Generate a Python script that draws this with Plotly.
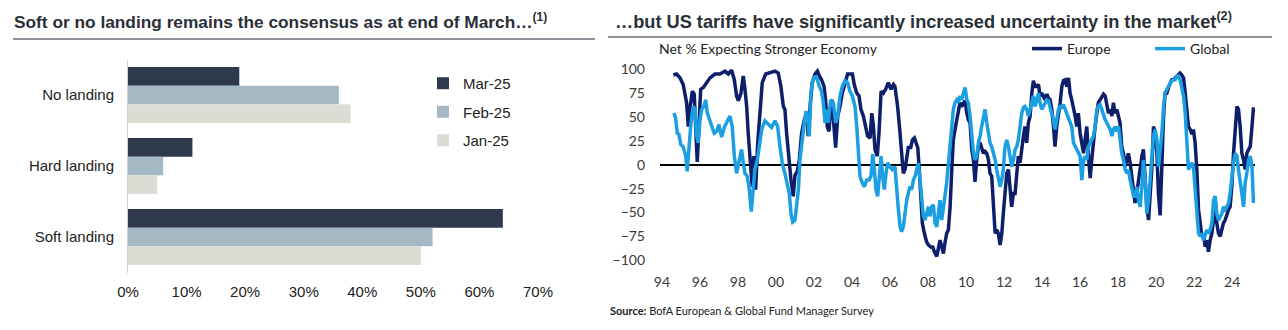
import plotly.graph_objects as go

# ---------------- data ----------------
categories = ["No landing", "Hard landing", "Soft landing"]
mar25 = [19, 11, 64]
feb25 = [36, 6, 52]
jan25 = [38, 5, 50]
pct_ticks = [0, 10, 20, 30, 40, 50, 60, 70]
pct_labels = [f"{v}%" for v in pct_ticks]

# Europe (decimal year, net %)
eu_year_a = [1994.60, 1994.77, 1994.95, 1995.12, 1995.30, 1995.39, 1995.47, 1995.60, 1995.70, 1995.77,
             1995.86, 1995.95, 1996.04, 1996.18, 1996.35, 1996.53, 1996.79, 1997.05, 1997.32, 1997.49,
             1997.67, 1997.81, 1997.93, 1998.02, 1998.16, 1998.28, 1998.37, 1998.46, 1998.54, 1998.67,
             1998.75, 1998.84, 1998.93, 1999.04, 1999.16, 1999.28, 1999.46, 1999.68,
             1999.95, 2000.12, 2000.26, 2000.39, 2000.47, 2000.56, 2000.68, 2000.79, 2000.91,
             2001.00, 2001.12, 2001.23, 2001.35, 2001.49, 2001.61, 2001.70, 2001.81, 2001.91,
             2002.05, 2002.18, 2002.28, 2002.40, 2002.53, 2002.61, 2002.70, 2002.79, 2002.88, 2002.96,
             2003.05, 2003.14, 2003.25, 2003.37, 2003.49, 2003.63, 2003.77, 2003.89,
             2004.02, 2004.12, 2004.25, 2004.37, 2004.47, 2004.60, 2004.72, 2004.82, 2004.95,
             2005.04, 2005.12, 2005.21, 2005.33, 2005.42, 2005.53, 2005.65, 2005.77, 2005.91,
             2006.05, 2006.18]
eu_val_a = [94, 95, 91, 84, 65, 40, 58, 77, 74, 40,
            3, 40, 79, 81, 86, 91, 95, 95, 98, 95,
            99, 89, 72, 67, 75, 93, 79, 61, 33, -9,
            -23, 9, -26, 23, 61, 86, 95, 96,
            98, 96, 82, 61, 58, 33, 5, -16, -33,
            -11, -7, 5, 33, 47, 54, 30, 65, 86,
            95, 98, 93, 89, 82, 68, 40, 35, 60, 68,
            40, 18, 51, 61, 75, 86, 95, 95,
            95, 84, 75, 72, 58, 51, 39, 30, 28,
            54, 42, 16, 9, 33, 77, 75, 79, 86,
            79, 84]
eu_year_b = [2006.26, 2006.40, 2006.51, 2006.61, 2006.70, 2006.79, 2006.88, 2006.96, 2007.09, 2007.18,
             2007.28, 2007.37, 2007.46, 2007.53, 2007.61, 2007.70, 2007.81, 2007.93, 2008.02, 2008.14,
             2008.25, 2008.33, 2008.46, 2008.54, 2008.63, 2008.72, 2008.81, 2008.89, 2008.98, 2009.07,
             2009.16, 2009.25, 2009.33, 2009.42, 2009.51, 2009.60, 2009.68, 2009.77, 2009.86, 2009.95,
             2010.04, 2010.12, 2010.21, 2010.30, 2010.39, 2010.47, 2010.56, 2010.65, 2010.74, 2010.82,
             2010.91, 2011.00, 2011.09, 2011.18, 2011.26, 2011.35, 2011.44, 2011.53, 2011.61, 2011.70,
             2011.79, 2011.88, 2011.96, 2012.05, 2012.14, 2012.23, 2012.32, 2012.40, 2012.49]
eu_val_b = [82, 61, 37, 16, -9, -5, 9, 18, 18, 26,
            28, 23, 18, -2, -37, -61, -72, -81, -84, -86,
            -86, -91, -96, -86, -79, -86, -93, -82, -72, -68,
            -44, -5, 26, 37, 47, 61, 65, 61, 65, 67,
            54, 47, 44, 16, 5, -18, 5, 19, 23, 18,
            12, 14, 12, 5, -9, -12, -37, -72, -68, -72,
            -84, -72, -51, -30, -9, -5, -26, -44, -30]

# Global (decimal year, net %)
gl_year_a = [1994.63, 1994.72, 1994.81, 1994.89, 1995.00, 1995.12, 1995.25, 1995.33, 1995.42, 1995.53,
             1995.65, 1995.74, 1995.82, 1995.91, 1996.00, 1996.09, 1996.21, 1996.30, 1996.39, 1996.53,
             1996.65, 1996.75, 1996.88, 1997.00, 1997.14, 1997.28, 1997.40, 1997.58, 1997.70, 1997.81,
             1997.93, 1998.05, 1998.19, 1998.28, 1998.37, 1998.49, 1998.60, 1998.70, 1998.81, 1998.89,
             1999.02, 1999.11, 1999.25, 1999.42, 1999.60, 1999.77,
             1999.95, 2000.09, 2000.21, 2000.33, 2000.47, 2000.60, 2000.70, 2000.79, 2000.88,
             2001.00, 2001.09, 2001.18, 2001.26, 2001.35, 2001.47, 2001.58, 2001.67, 2001.75, 2001.84, 2001.93,
             2002.05, 2002.18, 2002.28, 2002.40, 2002.49, 2002.58, 2002.67, 2002.75, 2002.88,
             2003.02, 2003.14, 2003.25, 2003.37, 2003.49, 2003.63, 2003.77, 2003.89,
             2004.02, 2004.16, 2004.25, 2004.33, 2004.42, 2004.54, 2004.65, 2004.77, 2004.89,
             2005.00, 2005.09, 2005.18, 2005.26, 2005.35, 2005.42, 2005.53, 2005.61, 2005.70, 2005.79, 2005.88,
             2006.00, 2006.12]
gl_val_a = [54, 49, 33, 32, 21, 19, 9, -7, 16, 44,
            61, 58, 32, 23, 46, 58, 61, 68, 54, 46,
            40, 33, 35, 42, 29, 39, 44, 51, 40, 9,
            -9, 5, 16, 2, -9, -12, -26, -49, -23, -5,
            5, 19, 37, 46, 42, 39,
            46, 40, 19, 2, -9, -23, -30, -51, -60,
            -58, -37, -26, 5, 23, 40, 56, 49, 30, 75, 88,
            93, 89, 82, 77, 65, 44, 58, 44, 68,
            65, 44, 51, 72, 82, 88, 86, 77,
            72, 61, 40, 16, -12, -19, -23, -16, -16,
            -12, 11, -5, -26, -33, -19, 9, -12, -26, -9, 2,
            -2, -5]
gl_year_b = [2006.26, 2006.35, 2006.44, 2006.53, 2006.61, 2006.70, 2006.79, 2006.88, 2006.96, 2007.05,
             2007.14, 2007.23, 2007.32, 2007.40, 2007.49, 2007.58, 2007.67, 2007.75, 2007.84, 2007.93,
             2008.02, 2008.10, 2008.19, 2008.28, 2008.37, 2008.46, 2008.54, 2008.63, 2008.72, 2008.81,
             2008.89, 2008.98, 2009.07, 2009.16, 2009.25, 2009.33, 2009.42, 2009.51, 2009.60, 2009.68,
             2009.77, 2009.86, 2009.95, 2010.04, 2010.12, 2010.21, 2010.30, 2010.39, 2010.47, 2010.56,
             2010.65, 2010.74, 2010.82, 2010.91, 2011.00, 2011.09, 2011.18, 2011.26, 2011.35, 2011.44,
             2011.53, 2011.61, 2011.70, 2011.79, 2011.88, 2011.96, 2012.05, 2012.14, 2012.23, 2012.32,
             2012.40, 2012.49]
gl_val_b = [-2, -30, -47, -65, -70, -65, -47, -37, -30, -23,
            -26, -16, -12, -5, 2, -16, -40, -53, -58, -51,
            -44, -54, -44, -42, -61, -65, -47, -37, -58, -40,
            -33, -19, -2, 16, 40, 58, 65, 68, 65, 72,
            68, 75, 81, 68, 65, 51, 30, 12, 5, 9,
            23, 30, 40, 51, 58, 44, 30, 23, 19, 12,
            5, -5, -16, -23, -16, -5, 19, 26, 19, 9,
            -2, 5]

# shared sampling dates 2012-2025 for both series
year_c = [2012.58, 2012.67, 2012.75, 2012.84, 2012.93, 2013.02, 2013.10, 2013.19, 2013.28, 2013.37,
          2013.46, 2013.54, 2013.63, 2013.72, 2013.81, 2013.89, 2013.98, 2014.07, 2014.16, 2014.25,
          2014.33, 2014.42, 2014.51, 2014.60, 2014.68, 2014.77, 2014.86, 2014.95, 2015.04, 2015.12,
          2015.21, 2015.30, 2015.39, 2015.47, 2015.56, 2015.65, 2015.74, 2015.82, 2015.91, 2016.00,
          2016.09, 2016.18, 2016.26, 2016.35, 2016.44, 2016.53, 2016.61, 2016.70, 2016.79, 2016.88,
          2016.96, 2017.05, 2017.14, 2017.23, 2017.32, 2017.40, 2017.49, 2017.58, 2017.67, 2017.75,
          2017.84, 2017.93, 2018.02, 2018.10, 2018.19, 2018.28, 2018.37, 2018.46, 2018.54, 2018.63,
          2018.72, 2018.81,
          2018.89, 2018.98, 2019.07, 2019.16, 2019.25, 2019.33, 2019.42, 2019.51, 2019.60, 2019.68,
          2019.77, 2019.86, 2019.95, 2020.04, 2020.12, 2020.21, 2020.30, 2020.39, 2020.47, 2020.56,
          2020.65, 2020.74, 2020.82, 2020.91, 2021.00, 2021.09, 2021.18, 2021.26, 2021.35, 2021.44,
          2021.53, 2021.61, 2021.70, 2021.79, 2021.88, 2021.96, 2022.05, 2022.14, 2022.23, 2022.32,
          2022.40, 2022.49, 2022.58, 2022.67, 2022.75, 2022.84, 2022.93, 2023.02, 2023.10, 2023.19,
          2023.28, 2023.37, 2023.46, 2023.54, 2023.63, 2023.72, 2023.81, 2023.89, 2023.98, 2024.07,
          2024.16, 2024.25, 2024.33, 2024.42, 2024.51, 2024.60, 2024.68, 2024.77, 2024.86, 2024.95,
          2025.04, 2025.12]
eu_val_c = [-30, -9, 9, 2, 19, 30, 40, 23, 44, 51,
            75, 88, 82, 82, 84, 72, 75, 72, 68, 74,
            70, 68, 58, 40, 19, 40, 51, 65, 82, 88,
            89, 82, 91, 75, 68, 61, 51, 40, 54, 33,
            23, 12, 26, 40, 9, -14, 5, 26, 40, 54,
            65, 68, 72, 74, 72, 61, 54, 58, 51, 65,
            54, 58, 51, 44, 19, 12, -2, 5, 12, 2,
            -12, -26,
            -40, -30, -16, -5, 9, 16, -23, -44, -58, -37,
            -5, 40, 33, 12, -30, -53, 5, 51, 75, 75,
            81, 86, 89, 89, 91, 93, 95, 96, 94, 91,
            75, 58, 40, 37, 32, 37, 23, -5, -47, -61,
            -75, -72, -86, -79, -91, -79, -72, -58, -33, -61,
            -72, -75, -68, -61, -58, -51, -47, -44, -23, 12,
            44, 61, 58, 40, 12, 5, -5, 12, 16, 19,
            40, 60]
gl_val_c = [16, 19, 26, 40, 54, 60, 61, 58, 51, 58,
            65, 72, 61, 70, 75, 65, 58, 61, 65, 68,
            67, 61, 54, 47, 37, 51, 58, 61, 60, 63,
            58, 54, 47, 44, 40, 23, 19, 16, 12, 9,
            -16, 5, 9, 5, 19, 23, 26, 30, 40, 58,
            61, 63, 58, 51, 47, 44, 40, 37, 30, 37,
            40, 35, 40, 23, 12, 5, -5, -9, -5, -16,
            -23, -33,
            -33, -23, -37, -44, -23, 5, -16, -51, -37, -16,
            9, 30, 37, 26, -2, 16, 33, 61, 75, 79,
            82, 86, 88, 89, 89, 93, 93, 89, 82, 72,
            54, 23, -5, -2, 2, -2, -23, -54, -72, -75,
            -72, -79, -72, -68, -72, -68, -61, -37, -33, -51,
            -58, -54, -51, -44, -47, -44, -40, -30, -12, 2,
            12, 9, -5, -16, -30, -44, -19, -9, 5, 9,
            -2, -40]

europe_year = eu_year_a + eu_year_b + year_c
europe_val = eu_val_a + eu_val_b + eu_val_c
global_year = gl_year_a + gl_year_b + year_c
global_val = gl_val_a + gl_val_b + gl_val_c

year_ticks = list(range(1994, 2025, 2))
year_labels = [f"{y % 100:02d}" for y in year_ticks]
net_ticks = [100, 75, 50, 25, 0, -25, -50, -75, -100]

# ---------------- layout helpers ----------------
W, H = 1288, 330
def px(x):
    return x / W
def py(y):
    return 1 - y / H

ARIAL = "Liberation Sans, Arial, sans-serif"
LATO = "Lato, Open Sans, sans-serif"

fig = go.Figure()

bar_colors = ["#2e3a4c", "#a5b9c4", "#dcdcd5"]
for name, vals, col in [("Mar-25", mar25, bar_colors[0]),
                        ("Feb-25", feb25, bar_colors[1]),
                        ("Jan-25", jan25, bar_colors[2])]:
    fig.add_trace(go.Bar(y=categories, x=vals, orientation="h", name=name,
                         marker=dict(color=col, line=dict(width=0)),
                         xaxis="x", yaxis="y", legend="legend", legendgroup=name))

fig.add_trace(go.Scatter(x=europe_year, y=europe_val, mode="lines", name="Europe",
                         line=dict(color="#0d1f6b", width=3.5),
                         xaxis="x2", yaxis="y2", legend="legend2"))
fig.add_trace(go.Scatter(x=global_year, y=global_val, mode="lines", name="Global",
                         line=dict(color="#1a9fe3", width=3.5),
                         xaxis="x2", yaxis="y2", legend="legend2"))

fig.update_layout(
    width=W, height=H,
    margin=dict(l=0, r=0, t=0, b=0, autoexpand=False),
    paper_bgcolor="white", plot_bgcolor="white",
    barmode="group", bargap=0.21, bargroupgap=0,
    showlegend=True,
    xaxis=dict(domain=[px(128), px(538)], range=[0, 70], tickvals=pct_ticks, ticktext=pct_labels,
               showgrid=False, zeroline=False, showline=False, ticks="", anchor="y",
               ticklabelstandoff=8, tickfont=dict(family=ARIAL, size=15, color="#222222")),
    yaxis=dict(domain=[py(272.5), py(59.5)], range=[2.5, -0.5], showgrid=False, zeroline=False,
               showline=True, linecolor="#d4d4d4", linewidth=1, ticks="", anchor="x",
               ticklabelstandoff=10, tickfont=dict(family=ARIAL, size=15, color="#222222")),
    xaxis2=dict(domain=[px(660), px(1255)], range=[1993.9, 2025.2], tickvals=year_ticks,
                ticktext=year_labels, showgrid=False, zeroline=False, showline=False, ticks="",
                anchor="y2", ticklabelstandoff=2,
                tickfont=dict(family=LATO, size=14, color="#3b3a36")),
    yaxis2=dict(domain=[py(269.8), py(59.7)], range=[-110, 110], tickvals=net_ticks,
                showgrid=False, zeroline=True, zerolinecolor="#000000", zerolinewidth=1.5,
                showline=False, ticks="", anchor="x2", ticklabelstandoff=14,
                tickfont=dict(family=LATO, size=14, color="#3b3a36")),
    legend=dict(x=px(423), y=py(67), xanchor="left", yanchor="top", traceorder="grouped",
                tracegroupgap=6, font=dict(family=ARIAL, size=15, color="#222222"),
                bgcolor="rgba(0,0,0,0)", itemclick=False),
    legend2=dict(orientation="h", x=px(1027), y=py(49), xanchor="left", yanchor="middle",
                 entrywidth=78, entrywidthmode="pixels",
                 font=dict(family=LATO, size=14, color="#222222"), bgcolor="rgba(0,0,0,0)"),
    shapes=[
        dict(type="line", xref="paper", yref="paper", x0=px(13), x1=px(595), y0=py(39), y1=py(39),
             line=dict(color="#8d949c", width=2)),
        dict(type="line", xref="paper", yref="paper", x0=px(608), x1=px(1272), y0=py(37), y1=py(37),
             line=dict(color="#8d949c", width=2)),
    ],
    annotations=[
        dict(xref="paper", yref="paper", x=px(12), y=py(21), xanchor="left", yanchor="middle",
             showarrow=False,
             text="<b>Soft or no landing remains the consensus as at end of March…<sup>(1)</sup></b>",
             font=dict(family=ARIAL, size=17.3, color="#2a2f38")),
        dict(xref="paper", yref="paper", x=px(613), y=py(20), xanchor="left", yanchor="middle",
             showarrow=False,
             text="<b>…but US tariffs have significantly increased uncertainty in the market<sup>(2)</sup></b>",
             font=dict(family=ARIAL, size=18.2, color="#2a2f38")),
        dict(xref="paper", yref="paper", x=px(657), y=py(48), xanchor="left", yanchor="middle",
             showarrow=False, text="Net % Expecting Stronger Economy",
             font=dict(family=LATO, size=14, color="#222222")),
        dict(xref="paper", yref="paper", x=px(608), y=py(310), xanchor="left", yanchor="middle",
             showarrow=False, text="<b>Source:</b> BofA European &amp; Global Fund Manager Survey",
             font=dict(family=LATO, size=11, color="#222222")),
    ],
)

fig.write_html("out.html")
